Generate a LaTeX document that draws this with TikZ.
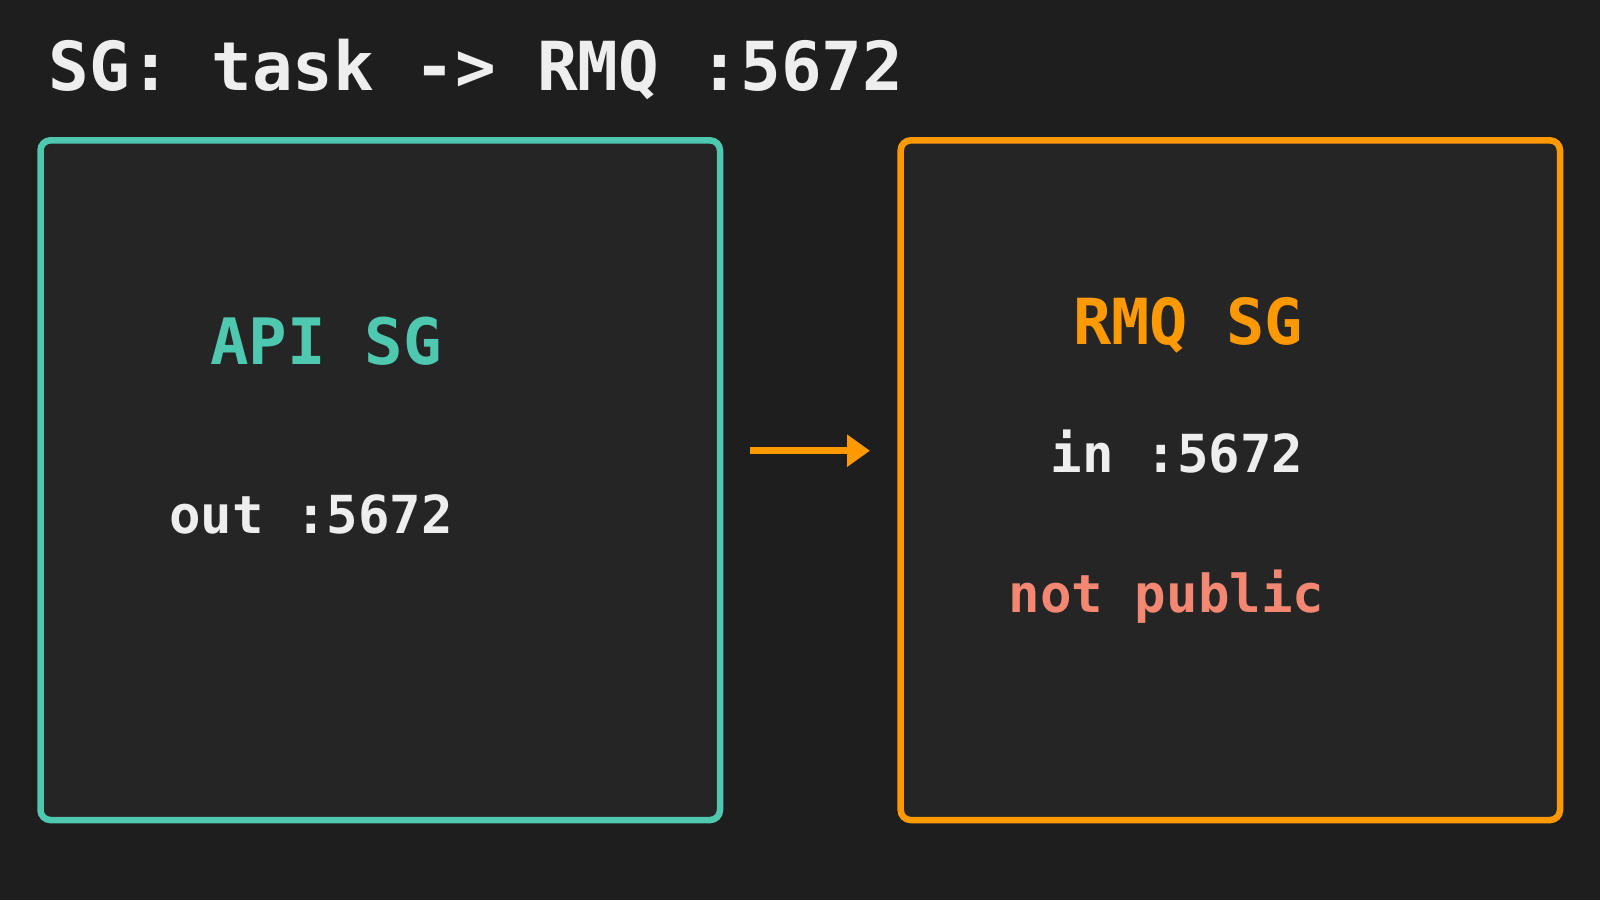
\documentclass[tikz,border=0pt]{standalone}
\usepackage{fontspec}
\newfontfamily\monofont{DejaVu Sans Mono}
\usetikzlibrary{arrows.meta}
\definecolor{bg}{HTML}{1E1E1E}
\definecolor{boxfill}{HTML}{252526}
\definecolor{teal}{HTML}{4EC9B0}
\definecolor{orng}{HTML}{FF9900}
\definecolor{salmon}{HTML}{F48771}
\definecolor{txt}{HTML}{EEEEEE}
\tikzset{
  sgbox/.style={draw, fill=boxfill, line width=6.5pt, rounded corners=10pt, rectangle, outer sep=0pt, inner sep=0pt},
  lbl/.style={anchor=base, inner sep=0pt, font=\monofont\bfseries},
  arr/.style={draw=orng, line width=6.5pt, -{Triangle[length=23pt, width=31pt]}}
}
\begin{document}
\begin{tikzpicture}[x=1pt, y=-1pt]
  \fill[bg] (0,0) rectangle (1600,900);
  \useasboundingbox (0,0) rectangle (1600,900);
  \node[lbl, text=txt, font=\monofont\bfseries\fontsize{67.6}{80}\selectfont] (title) at (476,90) {SG: task -> RMQ :5672};
  \node[sgbox, draw=teal, minimum width=679.5pt, minimum height=679.7pt] (api) at (380.25,480.2) {};
  \node[sgbox, draw=orng, minimum width=659.3pt, minimum height=679.7pt] (rmq) at (1230.35,480.2) {};
  \node[lbl, text=teal, font=\monofont\bfseries\fontsize{64}{76}\selectfont] (apiname) at (326,364) {API SG};
  \node[lbl, text=txt, font=\monofont\bfseries\fontsize{52.4}{64}\selectfont] (apiout) at (311,533) {out :5672};
  \node[lbl, text=orng, font=\monofont\bfseries\fontsize{63.5}{76}\selectfont] (rmqname) at (1188,344) {RMQ SG};
  \node[lbl, text=txt, font=\monofont\bfseries\fontsize{52.4}{64}\selectfont] (rmqin) at (1177,472) {in :5672};
  \node[lbl, text=salmon, font=\monofont\bfseries\fontsize{52.4}{64}\selectfont] (rmqpub) at (1166.5,612) {not public};
  \draw[arr, shorten <=30pt, shorten >=30.7pt] ([yshift=29.5pt]api.east) -- ([yshift=29.5pt]rmq.west);
\end{tikzpicture}
\end{document}
